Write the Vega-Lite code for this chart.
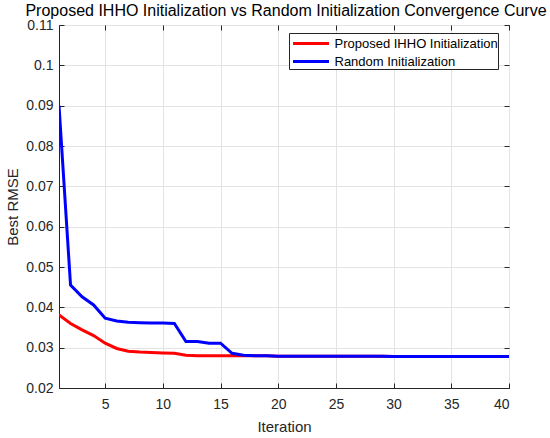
{
  "$schema": "https://vega.github.io/schema/vega-lite/v6.json",
  "width": 450,
  "height": 363,
  "autosize": {"type": "none"},
  "padding": {"left": 59, "top": 25, "right": 41, "bottom": 50},
  "title": {
    "text": "Proposed IHHO Initialization vs Random Initialization Convergence Curve",
    "fontSize": 16,
    "fontWeight": "normal",
    "font": "Liberation Sans",
    "color": "#000000",
    "anchor": "middle",
    "dx": 2,
    "offset": -1
  },
  "data": {
    "values": [
      {"iter": 1, "series": "Proposed IHHO Initialization", "rmse": 0.0381},
      {"iter": 2, "series": "Proposed IHHO Initialization", "rmse": 0.0360},
      {"iter": 3, "series": "Proposed IHHO Initialization", "rmse": 0.0344},
      {"iter": 4, "series": "Proposed IHHO Initialization", "rmse": 0.0330},
      {"iter": 5, "series": "Proposed IHHO Initialization", "rmse": 0.0311},
      {"iter": 6, "series": "Proposed IHHO Initialization", "rmse": 0.0298},
      {"iter": 7, "series": "Proposed IHHO Initialization", "rmse": 0.0291},
      {"iter": 8, "series": "Proposed IHHO Initialization", "rmse": 0.0289},
      {"iter": 9, "series": "Proposed IHHO Initialization", "rmse": 0.0288},
      {"iter": 10, "series": "Proposed IHHO Initialization", "rmse": 0.0287},
      {"iter": 11, "series": "Proposed IHHO Initialization", "rmse": 0.0286},
      {"iter": 12, "series": "Proposed IHHO Initialization", "rmse": 0.0281},
      {"iter": 13, "series": "Proposed IHHO Initialization", "rmse": 0.0280},
      {"iter": 14, "series": "Proposed IHHO Initialization", "rmse": 0.0280},
      {"iter": 15, "series": "Proposed IHHO Initialization", "rmse": 0.0280},
      {"iter": 16, "series": "Proposed IHHO Initialization", "rmse": 0.0280},
      {"iter": 17, "series": "Proposed IHHO Initialization", "rmse": 0.0280},
      {"iter": 18, "series": "Proposed IHHO Initialization", "rmse": 0.0280},
      {"iter": 19, "series": "Proposed IHHO Initialization", "rmse": 0.0280},
      {"iter": 20, "series": "Proposed IHHO Initialization", "rmse": 0.0279},
      {"iter": 21, "series": "Proposed IHHO Initialization", "rmse": 0.0279},
      {"iter": 22, "series": "Proposed IHHO Initialization", "rmse": 0.0279},
      {"iter": 23, "series": "Proposed IHHO Initialization", "rmse": 0.0279},
      {"iter": 24, "series": "Proposed IHHO Initialization", "rmse": 0.0279},
      {"iter": 25, "series": "Proposed IHHO Initialization", "rmse": 0.0279},
      {"iter": 26, "series": "Proposed IHHO Initialization", "rmse": 0.0279},
      {"iter": 27, "series": "Proposed IHHO Initialization", "rmse": 0.0279},
      {"iter": 28, "series": "Proposed IHHO Initialization", "rmse": 0.0279},
      {"iter": 29, "series": "Proposed IHHO Initialization", "rmse": 0.0279},
      {"iter": 30, "series": "Proposed IHHO Initialization", "rmse": 0.0278},
      {"iter": 31, "series": "Proposed IHHO Initialization", "rmse": 0.0278},
      {"iter": 32, "series": "Proposed IHHO Initialization", "rmse": 0.0278},
      {"iter": 33, "series": "Proposed IHHO Initialization", "rmse": 0.0278},
      {"iter": 34, "series": "Proposed IHHO Initialization", "rmse": 0.0278},
      {"iter": 35, "series": "Proposed IHHO Initialization", "rmse": 0.0278},
      {"iter": 36, "series": "Proposed IHHO Initialization", "rmse": 0.0278},
      {"iter": 37, "series": "Proposed IHHO Initialization", "rmse": 0.0278},
      {"iter": 38, "series": "Proposed IHHO Initialization", "rmse": 0.0278},
      {"iter": 39, "series": "Proposed IHHO Initialization", "rmse": 0.0278},
      {"iter": 40, "series": "Proposed IHHO Initialization", "rmse": 0.0278},
      {"iter": 1, "series": "Random Initialization", "rmse": 0.0900},
      {"iter": 2, "series": "Random Initialization", "rmse": 0.0455},
      {"iter": 3, "series": "Random Initialization", "rmse": 0.0426},
      {"iter": 4, "series": "Random Initialization", "rmse": 0.0406},
      {"iter": 5, "series": "Random Initialization", "rmse": 0.0373},
      {"iter": 6, "series": "Random Initialization", "rmse": 0.0366},
      {"iter": 7, "series": "Random Initialization", "rmse": 0.0363},
      {"iter": 8, "series": "Random Initialization", "rmse": 0.0362},
      {"iter": 9, "series": "Random Initialization", "rmse": 0.0361},
      {"iter": 10, "series": "Random Initialization", "rmse": 0.0361},
      {"iter": 11, "series": "Random Initialization", "rmse": 0.0360},
      {"iter": 12, "series": "Random Initialization", "rmse": 0.0315},
      {"iter": 13, "series": "Random Initialization", "rmse": 0.0315},
      {"iter": 14, "series": "Random Initialization", "rmse": 0.0311},
      {"iter": 15, "series": "Random Initialization", "rmse": 0.0311},
      {"iter": 16, "series": "Random Initialization", "rmse": 0.0286},
      {"iter": 17, "series": "Random Initialization", "rmse": 0.0281},
      {"iter": 18, "series": "Random Initialization", "rmse": 0.0280},
      {"iter": 19, "series": "Random Initialization", "rmse": 0.0280},
      {"iter": 20, "series": "Random Initialization", "rmse": 0.0279},
      {"iter": 21, "series": "Random Initialization", "rmse": 0.0279},
      {"iter": 22, "series": "Random Initialization", "rmse": 0.0279},
      {"iter": 23, "series": "Random Initialization", "rmse": 0.0279},
      {"iter": 24, "series": "Random Initialization", "rmse": 0.0279},
      {"iter": 25, "series": "Random Initialization", "rmse": 0.0279},
      {"iter": 26, "series": "Random Initialization", "rmse": 0.0279},
      {"iter": 27, "series": "Random Initialization", "rmse": 0.0279},
      {"iter": 28, "series": "Random Initialization", "rmse": 0.0279},
      {"iter": 29, "series": "Random Initialization", "rmse": 0.0279},
      {"iter": 30, "series": "Random Initialization", "rmse": 0.0278},
      {"iter": 31, "series": "Random Initialization", "rmse": 0.0278},
      {"iter": 32, "series": "Random Initialization", "rmse": 0.0278},
      {"iter": 33, "series": "Random Initialization", "rmse": 0.0278},
      {"iter": 34, "series": "Random Initialization", "rmse": 0.0278},
      {"iter": 35, "series": "Random Initialization", "rmse": 0.0278},
      {"iter": 36, "series": "Random Initialization", "rmse": 0.0278},
      {"iter": 37, "series": "Random Initialization", "rmse": 0.0278},
      {"iter": 38, "series": "Random Initialization", "rmse": 0.0278},
      {"iter": 39, "series": "Random Initialization", "rmse": 0.0278},
      {"iter": 40, "series": "Random Initialization", "rmse": 0.0278}
    ]
  },
  "resolve": {"axis": {"x": "independent", "y": "independent"}},
  "layer": [
    {
      "mark": {"type": "line", "strokeWidth": 3, "clip": true},
      "encoding": {
        "x": {
          "field": "iter",
          "type": "quantitative",
          "scale": {"domain": [1, 40], "nice": false, "zero": false},
          "axis": {
            "orient": "bottom",
            "title": "Iteration",
            "values": [5, 10, 15, 20, 25, 30, 35, 40],
            "labelPadding": 14,
            "titlePadding": 8
          }
        },
        "y": {
          "field": "rmse",
          "type": "quantitative",
          "scale": {"domain": [0.02, 0.11], "nice": false, "zero": false},
          "axis": {
            "orient": "left",
            "title": "Best RMSE",
            "values": [0.02, 0.03, 0.04, 0.05, 0.06, 0.07, 0.08, 0.09, 0.1, 0.11],
            "format": "~g",
            "labelPadding": 11,
            "titlePadding": 5
          }
        },
        "color": {
          "field": "series",
          "type": "nominal",
          "scale": {
            "domain": ["Proposed IHHO Initialization", "Random Initialization"],
            "range": ["#ff0000", "#0000ff"]
          },
          "legend": {
            "title": null,
            "orient": "none",
            "legendX": 230,
            "legendY": 8,
            "symbolType": "M-2,0H2",
            "symbolSize": 324,
            "symbolStrokeWidth": 3,
            "symbolOffset": 11.5,
            "labelOffset": 13,
            "labelFontSize": 13,
            "labelFont": "Liberation Sans",
            "labelColor": "#000000",
            "labelLimit": 400,
            "rowPadding": -3,
            "padding": 0,
            "fillColor": "#ffffff",
            "strokeColor": "#262626"
          }
        }
      }
    },
    {
      "mark": {"type": "point", "opacity": 0},
      "encoding": {
        "x": {
          "field": "iter",
          "type": "quantitative",
          "axis": {
            "orient": "top",
            "title": null,
            "labels": false,
            "grid": false,
            "domain": false,
            "minExtent": 0,
            "values": [5, 10, 15, 20, 25, 30, 35, 40]
          }
        },
        "y": {
          "field": "rmse",
          "type": "quantitative",
          "axis": {
            "orient": "right",
            "title": null,
            "labels": false,
            "grid": false,
            "domain": false,
            "minExtent": 0,
            "values": [0.02, 0.03, 0.04, 0.05, 0.06, 0.07, 0.08, 0.09, 0.1, 0.11]
          }
        }
      }
    }
  ],
  "config": {
    "view": {"stroke": "#262626", "strokeWidth": 1},
    "font": "Liberation Sans",
    "axis": {
      "labelFont": "Liberation Sans",
      "labelFontSize": 14,
      "labelColor": "#262626",
      "titleFont": "Liberation Sans",
      "titleFontSize": 15,
      "titleFontWeight": "normal",
      "titleColor": "#262626",
      "domainColor": "#262626",
      "tickColor": "#262626",
      "tickSize": -5,
      "gridColor": "#e3e3e3",
      "gridOpacity": 1
    }
  }
}
